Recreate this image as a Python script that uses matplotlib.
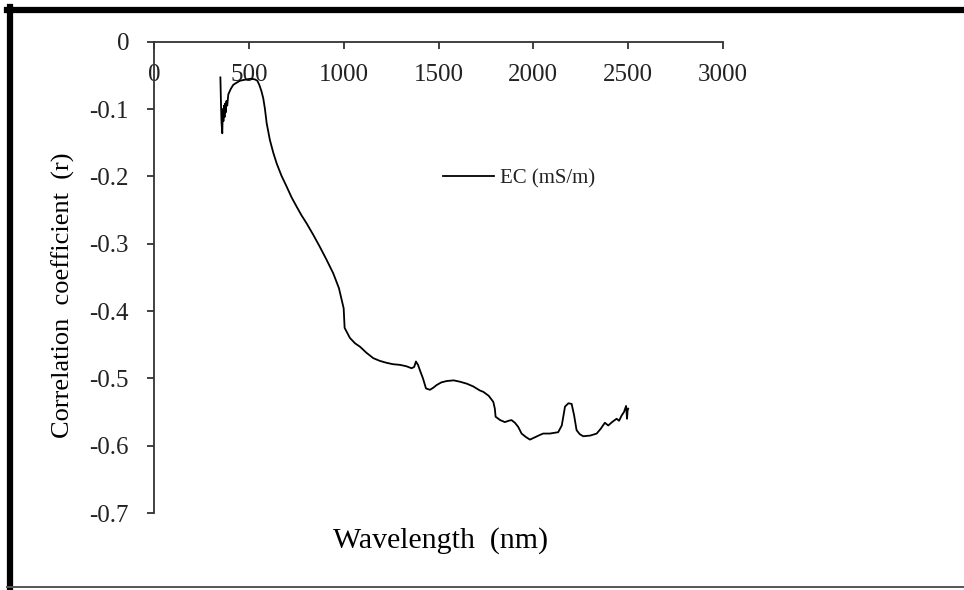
"""Correlation coefficient between soil EC and reflectance across wavelength."""

import matplotlib
matplotlib.use("Agg")
import matplotlib.pyplot as plt
from matplotlib.lines import Line2D

# wavelength (nm) and correlation coefficient r with EC
wavelength = [
    350, 353, 356, 360, 363, 366, 369, 372, 375, 378, 382, 386, 392, 405,
    418, 435, 453, 470, 489, 510, 532, 545, 555, 566, 576, 585, 594, 611,
    629, 647, 672, 699, 725, 752, 778, 805, 840, 875, 910, 945, 975, 1000,
    1005, 1033, 1060, 1086, 1120, 1156, 1190, 1227, 1260, 1297, 1330, 1358,
    1372, 1381, 1392, 1402, 1418, 1434, 1455, 1472, 1490, 1515, 1543, 1580,
    1613, 1650, 1683, 1718, 1736, 1765, 1789, 1797, 1801, 1825, 1850, 1870,
    1885, 1903, 1920, 1938, 1960, 1982, 2005, 2035, 2052, 2087, 2131, 2150,
    2167, 2185, 2202, 2215, 2228, 2245, 2263, 2300, 2334, 2355, 2377, 2395,
    2415, 2439, 2452, 2466, 2478, 2489, 2492, 2494, 2497, 2500,
]
r_ec = [
    -0.053, -0.090, -0.120, -0.136, -0.100, -0.118, -0.095, -0.112, -0.092,
    -0.105, -0.088, -0.095, -0.078, -0.070, -0.064, -0.061, -0.058, -0.057,
    -0.056, -0.055, -0.056, -0.058, -0.064, -0.073, -0.084, -0.100, -0.121,
    -0.146, -0.165, -0.181, -0.199, -0.215, -0.231, -0.245, -0.258, -0.270,
    -0.287, -0.305, -0.324, -0.344, -0.366, -0.396, -0.425, -0.440, -0.448,
    -0.453, -0.462, -0.470, -0.474, -0.477, -0.479, -0.480, -0.482, -0.485,
    -0.483, -0.475, -0.480, -0.488, -0.500, -0.515, -0.517, -0.514, -0.510,
    -0.506, -0.504, -0.503, -0.505, -0.508, -0.512, -0.518, -0.520, -0.526,
    -0.535, -0.545, -0.557, -0.562, -0.565, -0.563, -0.562, -0.566, -0.572,
    -0.582, -0.587, -0.591, -0.588, -0.584, -0.582, -0.582, -0.580, -0.570,
    -0.542, -0.537, -0.538, -0.555, -0.577, -0.583, -0.586, -0.585, -0.582,
    -0.575, -0.566, -0.570, -0.565, -0.560, -0.563, -0.555, -0.550, -0.541,
    -0.552, -0.560, -0.548, -0.545,
]

x_ticks = [0, 500, 1000, 1500, 2000, 2500, 3000]
y_ticks = [0, -0.1, -0.2, -0.3, -0.4, -0.5, -0.6, -0.7]
y_tick_labels = ["0", "-0.1", "-0.2", "-0.3", "-0.4", "-0.5", "-0.6", "-0.7"]

W, H = 964, 590
plt.rcParams["font.family"] = ["Liberation Serif", "DejaVu Serif"]
plt.rcParams["text.color"] = "#222222"

fig = plt.figure(figsize=(W / 100, H / 100), dpi=100)
ax = fig.add_axes([154 / W, 1 - 513 / H, (723 - 154) / W, (513 - 41.7) / H])

ax.plot(wavelength, r_ec, color="black", linewidth=1.3, label="EC (mS/m)")

ax.set_xlim(0, 3000)
ax.set_ylim(-0.7, 0)
ax.set_xticks(x_ticks)
ax.set_yticks(y_ticks)
ax.set_yticklabels(y_tick_labels)

# x axis sits on r = 0 at the top of the plot
axis_col = "#333333"
ax.spines["bottom"].set_position(("data", 0))
ax.spines["top"].set_visible(False)
ax.spines["right"].set_visible(False)
for side in ("bottom", "left"):
    ax.spines[side].set_color(axis_col)
    ax.spines[side].set_linewidth(1.3)
ax.tick_params(axis="both", direction="out", length=5, width=1.3,
               color=axis_col, labelsize=18, labelcolor="#222222")
ax.tick_params(axis="x", pad=11)
ax.tick_params(axis="y", pad=13)

ax.set_xlabel("Wavelength  (nm)", fontsize=21.5)
ax.xaxis.label.set_va("baseline")
ax.xaxis.set_label_coords(0.503, -0.0743)
ax.set_ylabel("Correlation  coefficient  (r)", fontsize=19)
ax.yaxis.label.set_va("center")
ax.yaxis.set_label_coords(-0.16, 0.4626)

ax.legend(loc="center left", bbox_to_anchor=(0.508, 0.7087), frameon=False,
          fontsize=15, handlelength=2.45, handletextpad=0.3, borderpad=0,
          borderaxespad=0)

# heavy frame round the figure
fig.add_artist(Line2D([7 / W, 1.0], [1 - 10 / H, 1 - 10 / H],
                      transform=fig.transFigure, color="black", linewidth=4.5))
fig.add_artist(Line2D([10 / W, 10 / W], [1 - 7 / H, 1 - 588 / H],
                      transform=fig.transFigure, color="black", linewidth=4.5))
fig.add_artist(Line2D([7 / W, 1.0], [1 - 587 / H, 1 - 587 / H],
                      transform=fig.transFigure, color="#555555", linewidth=1.4))

fig.savefig("out.png", dpi=100)
